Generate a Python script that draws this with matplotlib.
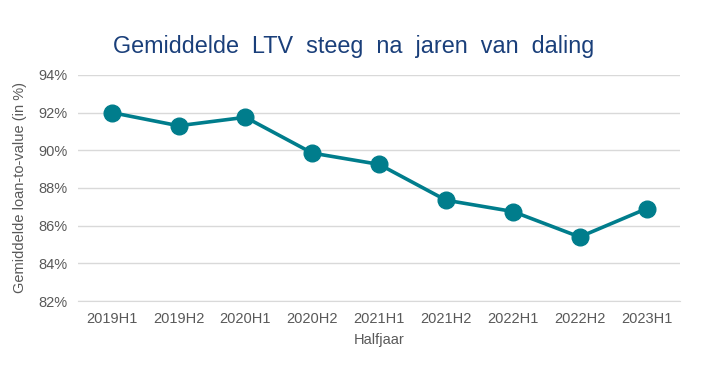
import matplotlib.pyplot as plt
from matplotlib.ticker import FuncFormatter

plt.rcParams['font.family'] = ['Liberation Sans', 'DejaVu Sans']

periods = ['2019H1', '2019H2', '2020H1', '2020H2', '2021H1',
           '2021H2', '2022H1', '2022H2', '2023H1']
ltv = [92.0, 91.3, 91.75, 89.85, 89.25, 87.35, 86.75, 85.4, 86.9]

teal = '#007D8C'
grey = '#595959'

fig = plt.figure(figsize=(7.12, 3.82), dpi=100)
ax = fig.add_axes([0.11, 0.212, 0.845, 0.592])

x = list(range(len(periods)))
ax.plot(x, ltv, color=teal, linewidth=2.6, marker='o', markersize=12, zorder=3)

ax.set_xlim(-0.5, len(periods) - 0.5)
ax.set_ylim(82, 94)
ax.set_yticks(range(82, 95, 2))
ax.yaxis.set_major_formatter(FuncFormatter(lambda v, p: f'{v:.0f}%'))
ax.set_xticks(x)
ax.set_xticklabels(periods)

ax.grid(axis='y', color='#D9D9D9', linewidth=1)
ax.set_axisbelow(True)
for s in ['top', 'right', 'left']:
    ax.spines[s].set_visible(False)
ax.spines['bottom'].set_color('#D9D9D9')
ax.tick_params(length=0, colors=grey, labelsize=10.5, pad=8)

ax.set_xlabel('Halfjaar', color=grey, fontsize=10.5, labelpad=5)
ax.set_ylabel('Gemiddelde loan-to-value (in %)', color=grey, fontsize=10.5, labelpad=8)

fig.text(0.497, 0.877, 'Gemiddelde  LTV  steeg  na  jaren  van  daling', ha='center',
         va='center', fontsize=16.8, color='#1A3F7A')

fig.savefig('out.png', dpi=100)
